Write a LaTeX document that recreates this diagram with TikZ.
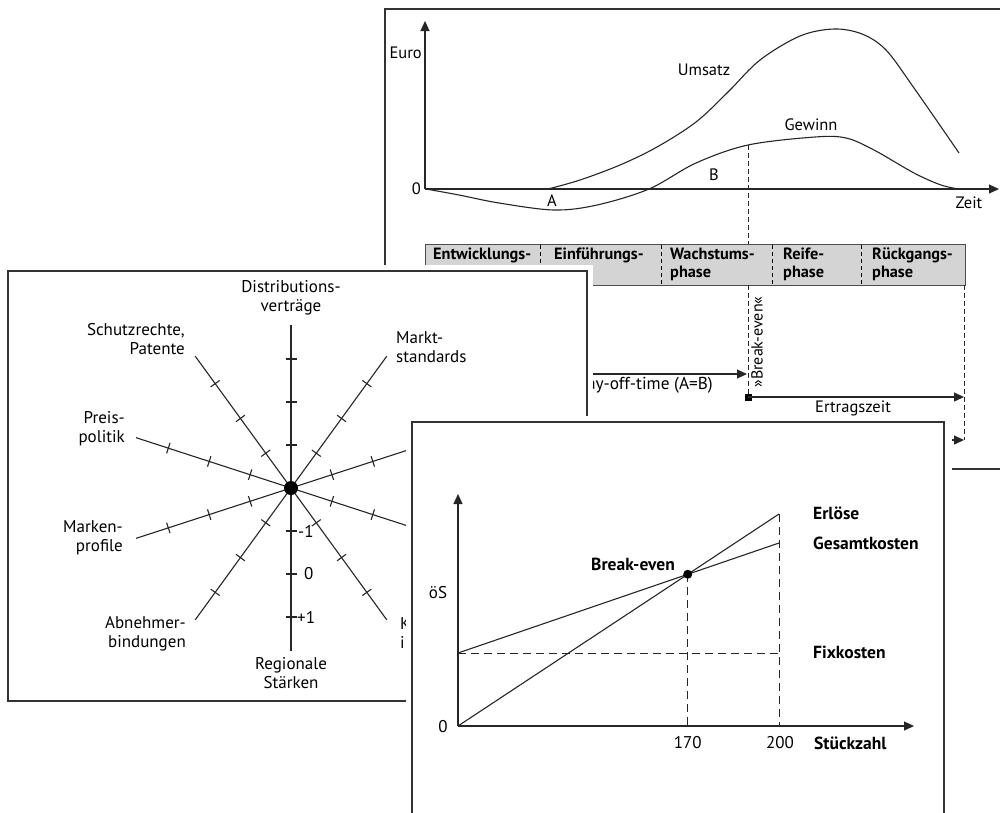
\documentclass[tikz,border=0pt]{standalone}
\usepackage{fontspec}
\setmainfont{PT Sans}
\usetikzlibrary{arrows.meta,calc}
\begin{document}
\begin{tikzpicture}[x=1pt,y=-1pt,
  lbl/.style={inner sep=0pt, font=\fontsize{17}{19}\selectfont},
  slbl/.style={inner sep=0pt, font=\fontsize{16.5}{19}\selectfont},
  blbl/.style={inner sep=0pt, font=\bfseries\fontsize{17.5}{20}\selectfont},
  phs/.style={inner sep=0pt, font=\bfseries\fontsize{16.3}{18}\selectfont, align=left, anchor=west},
  ln/.style={line width=1.1pt, draw=black!85},
  dsh/.style={line width=1pt, draw=black!85, dash pattern=on 5pt off 3pt},
  ldsh/.style={line width=1pt, draw=black!85, dash pattern=on 8pt off 5pt},
  arr/.style={-{Triangle[length=10pt,width=9pt]}},
  card/.style={draw=black!80, line width=1.4pt, fill=white},
  cover/.style={fill=white, draw=none}]
\useasboundingbox (0,0) rectangle (1000,812);
\clip (0,0) rectangle (1000,812);
\fill[white] (0,0) rectangle (1000,812);

% ===== top card: product life cycle =====
\draw[card] (385,9) rectangle (1012,469);
\coordinate (O1) at (425,189);
\coordinate (Y1) at (425,21);
\coordinate (X1) at (999,189);
\draw[ln,arr] (O1) -- (Y1);
\draw[ln,arr] (O1) -- (X1);
\node[slbl,anchor=east] (euro) at (422,53) {Euro};
\node[slbl,anchor=east] (null1) at (421,189) {0};
\node[slbl] (zeit) at (969,203) {Zeit};
\draw[ln] plot[smooth,tension=0.55] coordinates {(548,189) (580,180) (620,165) (657,147) (696,122) (728,92) (760,60) (800,36) (834,29) (862,34) (886,50) (914,88) (959,153)};
\draw[ln] plot[smooth,tension=0.55] coordinates {(426,189) (459,195) (499,203) (554,210) (597,205) (649,189) (696,163) (748,145) (815,137) (846,138) (874,150) (914,173) (941,185) (959,189)};
\node[slbl] (umsatz) at (704,70) {Umsatz};
\node[slbl] (gewinn) at (811,125) {Gewinn};
\node[slbl] (A) at (552,201) {A};
\node[slbl] (B) at (714,175) {B};

% phase bar
\draw[fill=black!17, draw=black!70, line width=0.8pt] (425,244) rectangle (965,285);
\foreach \x in {540,661,772,861} \draw[line width=0.8pt, dash pattern=on 4pt off 3pt] (\x,245) -- (\x,284);
\node[phs] (p1) at (433,255) {Entwicklungs-};
\node[phs] (p2) at (554,255) {Einführungs-};
\node[phs] (p3) at (670,264) {Wachstums-\\phase};
\node[phs] (p4) at (783,264) {Reife-\\phase};
\node[phs] (p5) at (872,264) {Rückgangs-\\phase};

% break-even markers
\coordinate (BE) at (748,145);
\coordinate (BEt) at (748,244);
\coordinate (BEb) at (748,285);
\coordinate (BEsq) at (748,397);
\coordinate (PAYs) at (548,374);
\coordinate (PAYe) at (747,374);
\coordinate (ENDt) at (964,285);
\coordinate (ENDb) at (964,440);
\coordinate (ERTe) at (964,397);
\coordinate (LASTs) at (900,440);
\draw[dsh] (BE) -- (BEt);
\draw[dsh] (BEb) -- (BEsq);
\draw[dsh] (ENDt) -- (ENDb);
\node[inner sep=0pt, font=\fontsize{16}{18}\selectfont, rotate=90] (bev) at (757,342) {»Break-even«};
\draw[ln,arr] (PAYs) -- (PAYe);
\node[inner sep=0pt, font=\fontsize{17.3}{19}\selectfont, anchor=east] (payoff) at (713,385) {Pay-off-time (A=B)};
\fill[black] (744.5,393.5) rectangle (751.5,400.5);
\draw[ln,arr] (BEsq) -- (ERTe);
\node[slbl] (ertrag) at (853,408) {Ertragszeit};
\draw[ln,arr] (LASTs) -- (ENDb);

% ===== left card: radar =====
\fill[cover] (2,265) rectangle (593,707);
\draw[card] (8,271) rectangle (587,701);
\coordinate (C) at (291,488);
\foreach \a in {18,54,...,342} {
  \draw[ln] (C) -- ++(\a:163);
  \foreach \d in {43,86,129}
    \draw[ln] ($(C)+(\a:\d)+(\a+90:5.5)$) -- ($(C)+(\a:\d)+(\a-90:5.5)$);
}
\fill[black] (C) circle (7);
\node[lbl,anchor=west] (m1) at (298,531) {-1};
\node[lbl,anchor=west] (z0) at (304,574) {0};
\node[lbl,anchor=west] (p1l) at (297,617) {+1};
\node[lbl,align=center] (dist) at (291,298) {Distributions-\\verträge};
\node[lbl,align=right,anchor=east] (schutz) at (185,339) {Schutzrechte,\\Patente};
\node[lbl,align=left,anchor=west] (markt) at (396,347) {Markt-\\standards};
\node[lbl,align=right,anchor=east] (preis) at (125,429) {Preis-\\politik};
\node[lbl,align=right,anchor=east] (marken) at (123,538) {Marken-\\profile};
\node[lbl,align=right,anchor=east] (abn) at (186,634) {Abnehmer-\\bindungen};
\node[lbl,align=center] (reg) at (291,673) {Regionale\\Stärken};
\node[lbl,align=left,anchor=west] (kost) at (400,633) {Kosten-\\intensität};

% ===== bottom card: break-even chart =====
\fill[cover] (406,416) rectangle (952,830);
\draw[card] (412,422) rectangle (944,830);
\coordinate (O2) at (458,726);
\coordinate (Y2) at (458,494);
\coordinate (X2) at (914,726);
\coordinate (F0) at (458,653);
\coordinate (F1) at (779,653);
\coordinate (G1) at (779,543);
\coordinate (E1) at (779,514);
\coordinate (X200) at (779,726);
\draw[ln,arr] (O2) -- (Y2);
\draw[ln,arr] (O2) -- (X2);
\draw[ldsh] (F0) -- (F1);
\draw[ln] (F0) -- (G1);
\draw[ln] (O2) -- (E1);
\coordinate (BP) at (intersection of O2--E1 and F0--G1);
\coordinate (BPx) at (BP |- O2);
\draw[ldsh] (BP) -- (BPx);
\draw[ldsh] (E1) -- (X200);
\fill[black] (BP) circle (4.5);
\node[lbl] (null2) at (443,727) {0};
\node[lbl] (oes) at (438,593) {öS};
\node[blbl] (bek) at (633,564) {Break-even};
\node[lbl] (n170) at ($(BPx)+(0,17)$) {170};
\node[lbl] (n200) at (780,743) {200};
\node[blbl,anchor=west] (stk) at (814,743) {Stückzahl};
\node[blbl,anchor=west] (erl) at (813,513) {Erlöse};
\node[blbl,anchor=west] (ges) at (813,543) {Gesamtkosten};
\node[blbl,anchor=west] (fix) at (813,652) {Fixkosten};
\end{tikzpicture}
\end{document}
